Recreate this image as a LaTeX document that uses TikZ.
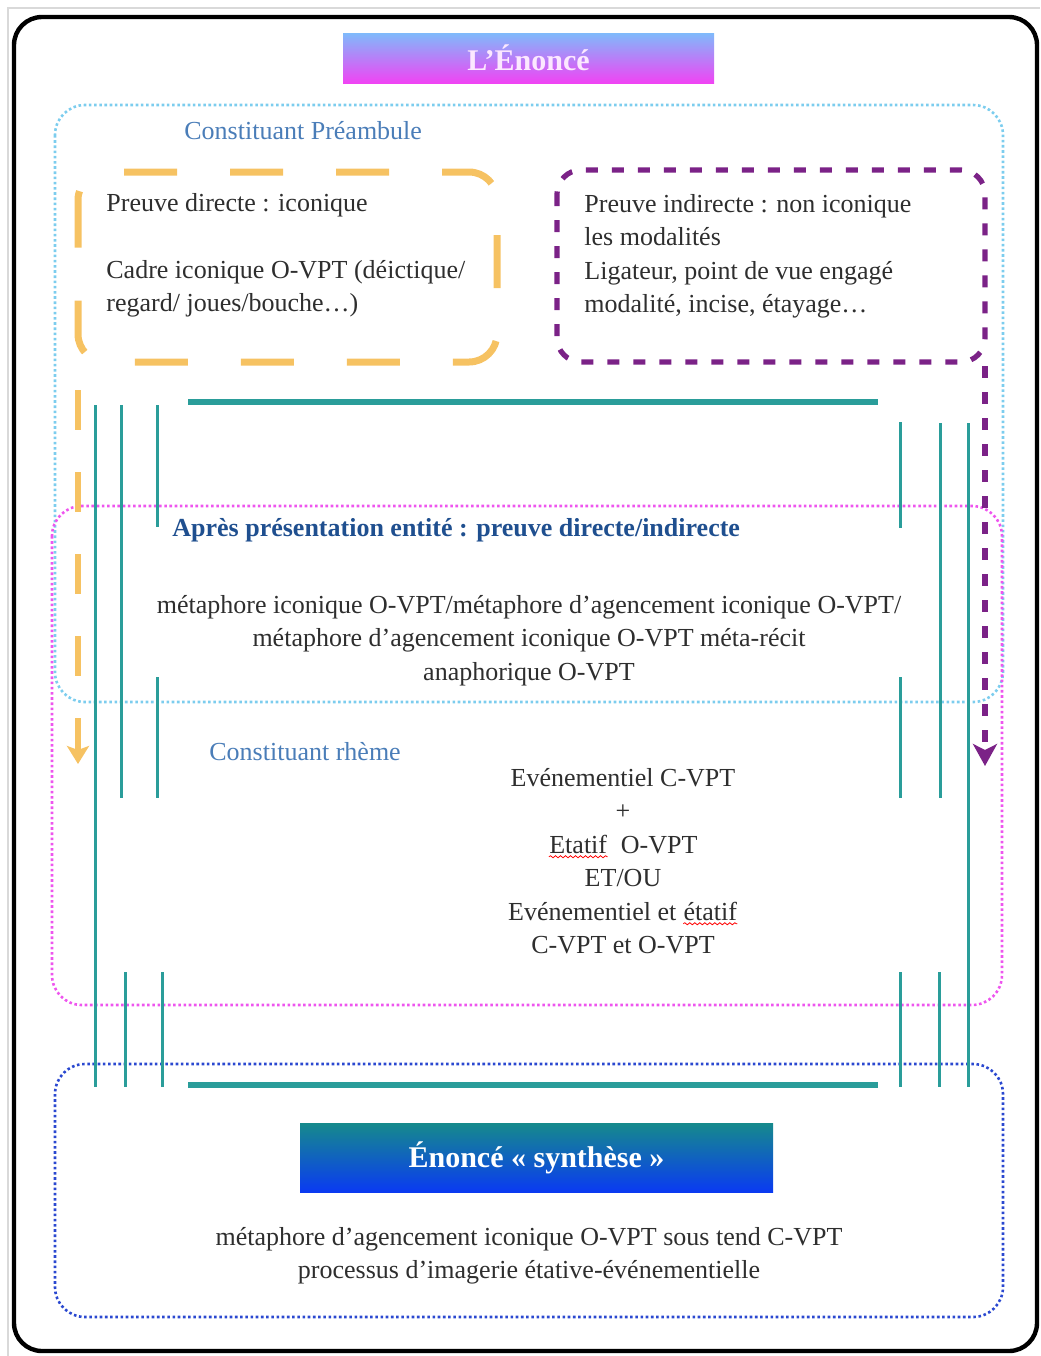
\documentclass[tikz,border=0pt]{standalone}
\usepackage{fontspec}
\setmainfont{Liberation Serif}
\usetikzlibrary{arrows.meta,decorations.pathmorphing}
\definecolor{tealline}{HTML}{2A9D9A}
\definecolor{orangebox}{HTML}{F6C262}
\definecolor{purplebox}{HTML}{7B2287}
\definecolor{skyline}{HTML}{7CCDEE}
\definecolor{pinkline}{HTML}{EE55EE}
\definecolor{blueline}{HTML}{2A48D0}
\definecolor{labelblue}{HTML}{4A7DB8}
\definecolor{darkblue}{HTML}{1F4F8F}
\definecolor{titletop}{HTML}{7FBAFB}
\definecolor{titlebot}{HTML}{F044F4}
\definecolor{titletext}{HTML}{FCE8FF}
\definecolor{synthtop}{HTML}{168A8C}
\definecolor{synthbot}{HTML}{0A3AF2}
\definecolor{bodytext}{HTML}{2E2E2E}
% mot souligne en rouge (correcteur)
\newcommand{\wavy}[1]{\tikz[baseline=(w.base)]{\node[inner sep=0pt] (w) {#1};
  \draw[red,line width=0.4pt,decorate,decoration={snake,amplitude=0.5pt,segment length=2.5pt}]
  ([yshift=-1.3pt]w.south west) -- ([yshift=-1.3pt]w.south east);}}
\begin{document}
\begin{tikzpicture}[x=0.5pt,y=-0.5pt,
  txt/.style={font=\fontsize{13}{16.75}\selectfont,text=bodytext,inner sep=0pt},
  lbl/.style={font=\fontsize{13}{16.75}\selectfont,text=labelblue,inner sep=0pt,anchor=west},
  tealv/.style={draw=tealline,line width=1.5pt},
  tealh/.style={draw=tealline,line width=2.6pt},
  dotbox/.style={line width=1.3pt,dash pattern=on 1.3pt off 1.3pt,rounded corners=15pt}]
\useasboundingbox (0,0) rectangle (1040,1356);
% cadre
\draw[gray!30,line width=0.8pt] (8,1356) -- (8,8) -- (1040,8);
\draw[black,line width=2.2pt,rounded corners=14pt] (14,17) rectangle (1037,1351);
% titre
\node[minimum width=185.5pt,minimum height=25pt,top color=titletop,bottom color=titlebot,
  font=\fontsize{15}{18}\selectfont\bfseries,text=titletext] (titre) at (528.5,58) {L’Énoncé};
% zones pointillees
\draw[dotbox,skyline] (55,105) rectangle (1003,702);
\draw[dotbox,pinkline] (52,506) rectangle (1002,1005);
\draw[dotbox,blueline] (55,1064) rectangle (1003,1317);
% preuves
\draw[orangebox,line width=3.5pt,dash pattern=on 26.5pt off 26.5pt,dash phase=64pt,rounded corners=14pt]
  (78,250) -- (78,172) -- (497,172) -- (497,362) -- (78,362) -- cycle;
\draw[purplebox,line width=2.6pt,dash pattern=on 6pt off 7pt,rounded corners=12pt]
  (557,170) rectangle (985,362);
\node[txt,anchor=north west,align=left] (direct) at (106,193)
  {Preuve directe : iconique\\[16.75pt]Cadre iconique O-VPT (déictique/\\regard/ joues/bouche…)};
\node[txt,anchor=north west,align=left] (indirect) at (584,194)
  {Preuve indirecte : non iconique\\les modalités\\Ligateur, point de vue engagé\\modalité, incise, étayage…};
\coordinate (orstart) at (78,390);
\coordinate (orend) at (78,764);
\coordinate (pustart) at (985,366);
\coordinate (puend) at (985,766);
\draw[orangebox,line width=2.6pt,dash pattern=on 20pt off 21pt,-{Stealth[length=9pt,width=11pt,inset=2pt]}]
  (orstart) -- (orend);
\draw[purplebox,line width=2.6pt,dash pattern=on 6pt off 7pt,-{Stealth[length=11pt,width=12pt,inset=3pt]}]
  (pustart) -- (puend);
% libelles
\node[lbl] (preamb) at (184,131) {Constituant Préambule};
\node[lbl,text=darkblue,font=\fontsize{13}{16.75}\selectfont\bfseries] (apres) at (172,530)
  {Après présentation entité : preuve directe/indirecte};
\node[lbl] (rheme) at (209,752) {Constituant rhème};
\node[txt,anchor=north,align=center] (meta) at (529,595)
  {métaphore iconique O-VPT/métaphore d’agencement iconique O-VPT/\\métaphore d’agencement iconique O-VPT méta-récit\\anaphorique O-VPT};
\node[txt,anchor=north,align=center] (rhemetxt) at (623,768)
  {Evénementiel C-VPT\\+\\\wavy{Etatif}\ \ O-VPT\\ET/OU\\Evénementiel et \wavy{étatif}\\C-VPT et O-VPT};
% traits
\draw[tealh] (188,402) -- (878,402);
\draw[tealh] (188,1085) -- (878,1085);
\foreach \x/\a/\b in {95/405/1087, 121/405/798, 157/405/527, 157/677/798, 125/972/1087, 162/972/1087,
  900/422/528, 900/677/798, 900/972/1087, 940/423/798, 939/972/1087, 968/423/1087}
  \draw[tealv] (\x,\a) -- (\x,\b);
% synthese
\node[minimum width=236.5pt,minimum height=34.5pt,top color=synthtop,bottom color=synthbot,
  font=\fontsize{15}{18}\selectfont\bfseries,text=white] (synth) at (536.5,1157.5) {Énoncé « synthèse »};
\node[txt,anchor=north,align=center] (synthtxt) at (529,1227)
  {métaphore d’agencement iconique O-VPT sous tend C-VPT\\processus d’imagerie étative-événementielle};
\end{tikzpicture}
\end{document}
